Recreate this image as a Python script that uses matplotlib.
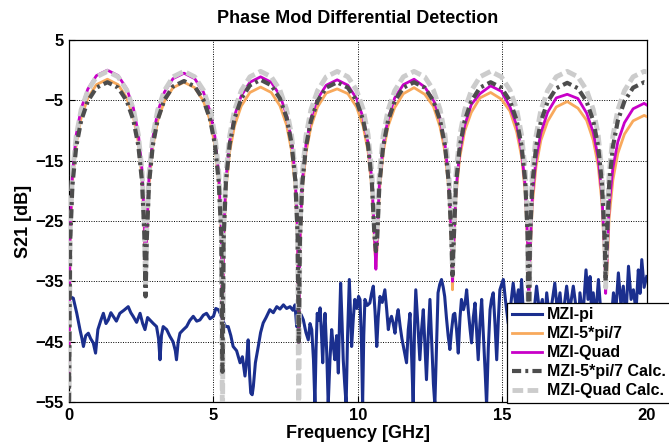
import matplotlib
matplotlib.use("Agg")
import matplotlib.pyplot as plt

plt.rcParams['font.family'] = ['Liberation Sans', 'DejaVu Sans']
plt.rcParams['font.weight'] = 'bold'

# ---------------- data ----------------
# shared frequency samples (GHz) for the periodic responses
freq_arc = [
    0.00, 0.04, 0.12, 0.25, 0.42, 0.65, 0.95, 1.33, 1.70, 2.00, 2.23, 2.40, 2.53, 2.61,
    2.65, 2.69, 2.77, 2.90, 3.07, 3.30, 3.60, 3.98, 4.35, 4.65, 4.88, 5.05, 5.18, 5.27,
    5.31, 5.35, 5.43, 5.56, 5.73, 5.96, 6.26, 6.63, 7.00, 7.30, 7.53, 7.70, 7.83, 7.91,
    7.95, 7.99, 8.07, 8.20, 8.37, 8.60, 8.90, 9.28, 9.65, 9.95, 10.18, 10.35, 10.48, 10.57,
    10.62, 10.66, 10.74, 10.87, 11.04, 11.27, 11.57, 11.94, 12.31, 12.61, 12.84, 13.01, 13.14, 13.23,
    13.27, 13.31, 13.39, 13.52, 13.69, 13.92, 14.22, 14.59, 14.96, 15.26, 15.49, 15.66, 15.79, 15.87,
    15.91, 15.95, 16.03, 16.16, 16.33, 16.56, 16.86, 17.24, 17.61, 17.91, 18.14, 18.31, 18.44, 18.53,
    18.57, 18.61, 18.69, 18.82, 18.99, 19.22, 19.52, 19.90, 20.00,
]

mzi_5pi7 = [
    -50, -28.0, -18.5, -12.2, -7.9, -4.65, -2.4, -1.5, -2.4, -4.6, -7.8, -12.0, -18.1, -27.0,
    -33, -28.5, -19.0, -12.7, -8.4, -5.15, -2.9, -2.0, -2.9, -5.1, -8.3, -12.5, -18.6, -27.5,
    -42, -29.3, -19.8, -13.5, -9.2, -5.95, -3.7, -2.8, -3.7, -5.9, -9.1, -13.3, -19.4, -28.3,
    -42, -29.5, -20.0, -13.7, -9.4, -6.1, -3.8, -3.1, -3.9, -6.1, -9.3, -13.5, -19.6, -28.5,
    -32.6, -29.5, -20.0, -13.7, -9.3, -6.2, -3.9, -2.9, -4.0, -6.0, -9.4, -13.5, -19.6, -28.5,
    -36.4, -30.3, -20.8, -14.5, -10.1, -7.0, -4.6, -3.7, -4.8, -6.8, -10.2, -14.3, -20.4, -29.3,
    -37, -31.8, -22.3, -16.0, -11.6, -8.5, -6.1, -5.2, -6.3, -8.3, -11.6, -15.8, -21.9, -30.8,
    -35, -34.0, -24.5, -18.2, -13.8, -10.6, -8.4, -7.5, -7.7,
]

mzi_quad = [
    -50, -26.5, -17.0, -10.7, -6.4, -3.15, -0.9, 0.0, -0.9, -3.1, -6.3, -10.5, -16.6, -25.5,
    -34, -27.0, -17.5, -11.2, -6.9, -3.65, -1.4, -0.5, -1.4, -3.6, -6.8, -11.0, -17.1, -26.0,
    -46, -27.6, -18.1, -11.8, -7.5, -4.25, -2.0, -1.1, -2.0, -4.2, -7.4, -11.6, -17.7, -26.6,
    -46, -28.1, -18.6, -12.3, -8.0, -4.75, -2.5, -1.6, -2.5, -4.7, -7.9, -12.1, -18.2, -27.1,
    -33, -28.2, -18.7, -12.4, -8.1, -4.6, -2.4, -1.5, -2.8, -4.9, -8.0, -12.2, -18.3, -27.2,
    -35, -29.3, -19.8, -13.5, -9.2, -5.7, -3.9, -2.6, -3.5, -6.1, -9.1, -13.3, -19.4, -28.3,
    -37.5, -30.5, -21.0, -14.7, -10.4, -7.0, -4.6, -4.0, -4.7, -7.1, -10.3, -14.5, -20.6, -29.5,
    -37, -32.0, -22.5, -16.2, -11.9, -8.7, -6.4, -5.5, -5.8,
]

calc_5pi7 = [
    -55, -28.5, -19.0, -12.7, -8.4, -5.15, -2.9, -2.0, -2.9, -5.1, -8.3, -12.5, -18.6, -27.5,
    -37.5, -28.3, -18.8, -12.5, -8.2, -4.95, -2.7, -1.8, -2.7, -4.9, -8.1, -12.3, -18.4, -27.3,
    -50, -28.1, -18.6, -12.3, -8.0, -4.75, -2.5, -1.6, -2.5, -4.7, -7.9, -12.1, -18.2, -27.1,
    -45, -28.5, -19.0, -12.7, -8.4, -5.15, -2.9, -2.0, -2.9, -5.1, -8.3, -12.5, -18.6, -27.5,
    -30, -28.5, -19.0, -12.7, -8.4, -5.15, -2.9, -2.0, -2.9, -5.1, -8.3, -12.5, -18.6, -27.5,
    -34, -28.5, -19.0, -12.7, -8.4, -5.15, -2.9, -2.0, -2.9, -5.1, -8.3, -12.5, -18.6, -27.5,
    -46, -28.6, -19.1, -12.8, -8.5, -5.25, -3.0, -2.1, -3.0, -5.2, -8.4, -12.6, -18.7, -27.6,
    -35, -28.5, -19.0, -12.7, -8.4, -5.15, -2.9, -2.0, -2.1,
]

calc_quad = [
    -60, -26.7, -17.2, -10.9, -6.6, -3.4, -1.1, -0.2, -1.1, -3.3, -6.5, -10.7, -16.8, -25.7,
    -36, -26.7, -17.2, -10.9, -6.6, -3.4, -1.1, -0.2, -1.1, -3.3, -6.5, -10.7, -16.8, -25.7,
    -60, -26.7, -17.2, -10.9, -6.6, -3.4, -1.1, -0.2, -1.1, -3.3, -6.5, -10.7, -16.8, -25.7,
    -60, -26.7, -17.2, -10.9, -6.6, -3.4, -1.1, -0.2, -1.1, -3.3, -6.5, -10.7, -16.8, -25.7,
    -28, -26.7, -17.2, -10.9, -6.6, -3.4, -1.1, -0.2, -1.1, -3.3, -6.5, -10.7, -16.8, -25.7,
    -34, -26.7, -17.2, -10.9, -6.6, -3.4, -1.1, -0.2, -1.1, -3.3, -6.5, -10.7, -16.8, -25.7,
    -60, -26.7, -17.2, -10.9, -6.6, -3.4, -1.1, -0.2, -1.1, -3.3, -6.5, -10.7, -16.8, -25.7,
    -36, -26.7, -17.2, -10.9, -6.6, -3.4, -1.1, -0.2, -0.3,
]

freq_pi = [
    0.00, 0.03, 0.15, 0.27, 0.38, 0.45, 0.50, 0.58, 0.67, 0.75, 0.84, 0.92, 1.00, 1.10, 1.19,
    1.28, 1.36, 1.45, 1.53, 1.64, 1.76, 1.90, 2.05, 2.14, 2.22, 2.34, 2.46, 2.55, 2.63, 2.72,
    2.80, 2.92, 3.03, 3.10, 3.15, 3.20, 3.26, 3.38, 3.49, 3.60, 3.68, 3.72, 3.78, 3.84, 3.96,
    4.07, 4.18, 4.30, 4.42, 4.53, 4.65, 4.76, 4.88, 5.00, 5.08, 5.17, 5.25, 5.35, 5.42, 5.51,
    5.60, 5.68, 5.80, 5.92, 6.00, 6.09, 6.15, 6.20, 6.25, 6.29, 6.34, 6.38, 6.45, 6.55, 6.63,
    6.72, 6.82, 6.95, 7.07, 7.19, 7.30, 7.42, 7.53, 7.65, 7.75, 7.82, 7.88, 7.95, 8.03, 8.11,
    8.20, 8.28, 8.34, 8.40, 8.46, 8.51, 8.55, 8.59, 8.64, 8.69, 8.74, 8.78, 8.82, 8.86, 8.92,
    8.97, 9.03, 9.09, 9.14, 9.20, 9.26, 9.32, 9.36, 9.40, 9.45, 9.49, 9.54, 9.59, 9.64, 9.70,
    9.74, 9.78, 9.84, 9.89, 9.96, 10.02, 10.07, 10.12, 10.16, 10.20, 10.24, 10.32, 10.41, 10.47, 10.53,
    10.59, 10.65, 10.70, 10.76, 10.84, 10.93, 10.99, 11.05, 11.10, 11.16, 11.22, 11.28, 11.34, 11.39, 11.46,
    11.52, 11.57, 11.62, 11.68, 11.74, 11.80, 11.86, 11.91, 11.96, 12.00, 12.07, 12.14, 12.20, 12.26, 12.32,
    12.37, 12.43, 12.49, 12.55, 12.61, 12.66, 12.72, 12.77, 12.83, 12.89, 12.95, 13.00, 13.06, 13.12, 13.18,
    13.24, 13.30, 13.35, 13.41, 13.47, 13.53, 13.58, 13.65, 13.71, 13.76, 13.82, 13.88, 13.93, 13.99, 14.05,
    14.10, 14.16, 14.22, 14.28, 14.34, 14.40, 14.45, 14.51, 14.57, 14.62, 14.68, 14.74, 14.80, 14.86, 14.91,
    14.97, 15.03, 15.10, 15.20, 15.26, 15.37, 15.46, 15.55, 15.60, 15.66, 15.72, 15.80, 15.88, 15.95, 16.05,
    16.18, 16.28, 16.38, 16.45, 16.53, 16.62, 16.70, 16.81, 16.90, 16.99, 17.08, 17.15, 17.22, 17.32, 17.45,
    17.55, 17.62, 17.68, 17.78, 17.89, 17.96, 18.03, 18.08, 18.14, 18.22, 18.32, 18.40, 18.50, 18.62, 18.72,
    18.84, 18.92, 19.01, 19.10, 19.18, 19.27, 19.36, 19.45, 19.53, 19.62, 19.70, 19.76, 19.82, 19.90, 19.99,
]

mzi_pi = [
    -37.2, -37.5, -37.8, -40.3, -43.0, -44.5, -45.8, -44.0, -43.6, -44.5, -45.2, -46.9, -43.0, -41.5, -40.3,
    -42.0, -41.4, -40.2, -40.8, -41.6, -40.3, -39.8, -39.2, -40.2, -40.8, -41.8, -40.3, -42.0, -43.0, -41.0,
    -41.4, -42.0, -42.5, -44.5, -48.0, -44.0, -42.5, -43.0, -44.1, -45.0, -46.5, -48.0, -45.0, -43.6, -43.0,
    -42.5, -41.5, -40.8, -41.6, -41.4, -40.6, -40.3, -41.2, -40.8, -39.5, -39.7, -40.5, -41.8, -42.5, -42.5,
    -44.0, -45.8, -46.5, -48.5, -47.5, -50.7, -48.0, -44.7, -50.5, -53.5, -53.8, -52.4, -48.5, -45.8, -43.5,
    -41.9, -41.0, -39.7, -40.2, -39.2, -39.6, -38.9, -39.5, -39.2, -39.8, -38.9, -42.5, -41.5, -40.5, -41.4,
    -43.5, -44.7, -42.0, -43.0, -48.0, -55.5, -46.0, -40.3, -41.5, -39.4, -44.0, -48.5, -43.0, -40.3, -47.0,
    -55.5, -48.0, -43.0, -45.5, -48.0, -44.0, -50.2, -42.0, -35.3, -42.0, -48.0, -52.0, -55.5, -44.0, -34.7,
    -40.0, -45.8, -41.0, -38.0, -39.5, -37.5, -38.0, -45.0, -55.5, -44.0, -38.0, -39.0, -38.6, -37.0, -35.8,
    -40.0, -45.8, -41.0, -37.5, -38.5, -36.4, -39.5, -43.0, -41.5, -40.8, -42.0, -43.6, -41.0, -39.7, -42.5,
    -44.5, -45.8, -47.0, -48.5, -43.0, -40.3, -48.0, -55.5, -42.0, -36.4, -42.0, -48.0, -43.0, -39.7, -46.0,
    -51.3, -44.0, -38.0, -45.0, -52.0, -55.5, -45.0, -36.9, -35.5, -34.7, -36.0, -37.5, -41.0, -44.0, -46.3,
    -43.0, -40.5, -40.3, -43.0, -46.9, -41.0, -38.0, -39.7, -38.5, -36.4, -40.0, -43.0, -45.2, -41.0, -38.6,
    -43.0, -48.0, -42.0, -38.0, -44.0, -50.0, -55.5, -46.0, -39.7, -38.0, -36.9, -42.0, -48.0, -41.0, -36.4,
    -35.5, -34.7, -38.0, -42.0, -40.0, -35.3, -39.0, -36.4, -41.0, -34.7, -40.0, -45.0, -42.0, -39.0, -42.0,
    -35.8, -40.0, -38.0, -43.0, -36.9, -41.0, -39.0, -35.3, -40.0, -36.9, -42.0, -38.5, -35.8, -40.0, -35.8,
    -39.5, -44.0, -36.9, -41.0, -33.1, -38.0, -34.2, -40.0, -36.9, -41.0, -34.7, -40.0, -43.0, -40.0, -44.0,
    -36.9, -40.0, -33.6, -39.0, -35.8, -41.0, -32.5, -38.0, -36.4, -40.0, -33.1, -37.0, -31.4, -36.0, -34.2,
]

series_labels = ['MZI-pi', 'MZI-5*pi/7', 'MZI-Quad', 'MZI-5*pi/7 Calc.', 'MZI-Quad Calc.']
x_ticks = [0, 5, 10, 15, 20]
y_ticks = [-55, -45, -35, -25, -15, -5, 5]

# ---------------- figure ----------------
fig = plt.figure(figsize=(6.69, 4.47), dpi=100)
ax = fig.add_axes([0.1031, 0.1007, 0.8640, 0.8098])

ax.plot(freq_pi, mzi_pi, color='#1b2f8e', lw=2.2, label=series_labels[0], zorder=2)
ax.plot(freq_arc, mzi_5pi7, color='#f8a95c', lw=2.0, label=series_labels[1], zorder=3)
ax.plot(freq_arc, mzi_quad, color='#c800c8', lw=2.0, label=series_labels[2], zorder=4)
ax.plot(freq_arc, calc_5pi7, color='#4d4d4d', lw=3.0, dashes=(2.2, 1.0, 0.7, 1.0),
        label=series_labels[3], zorder=6)
ax.plot(freq_arc, calc_quad, color='#cccccc', lw=3.5, dashes=(2.2, 0.9),
        label=series_labels[4], zorder=5)

ax.set_xlim(0, 20)
ax.set_ylim(-55, 5)
ax.set_xticks(x_ticks)
ax.set_yticks(y_ticks)
ax.tick_params(direction='in', length=4, width=0.8, labelsize=12, pad=4)
for lab in ax.get_xticklabels() + ax.get_yticklabels():
    lab.set_fontweight('bold')
ax.grid(True, color='black', linestyle=(0, (1, 1.5)), linewidth=0.7)
for s in ax.spines.values():
    s.set_linewidth(0.9)

ax.set_title('Phase Mod Differential Detection', fontsize=13, fontweight='bold', pad=12)
ax.set_xlabel('Frequency [GHz]', fontsize=13, fontweight='bold', labelpad=2)
ax.set_ylabel('S21 [dB]', fontsize=13, fontweight='bold', labelpad=2)

leg = ax.legend(loc='lower left', bbox_to_anchor=(0.758, -0.003), borderaxespad=0,
                fancybox=False, framealpha=1, edgecolor='black',
                handlelength=1.9, handletextpad=0.3, labelspacing=0.25, borderpad=0.3,
                prop={'weight': 'bold', 'size': 11.5})
leg.get_frame().set_linewidth(0.9)
leg.set_zorder(10)

fig.savefig('out.png', dpi=100)
